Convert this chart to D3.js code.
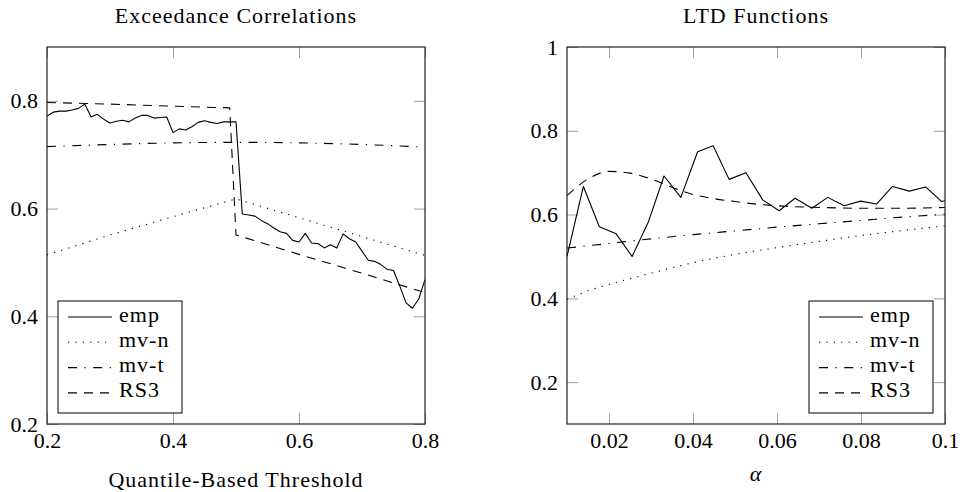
<!DOCTYPE html>
<html>
<head>
<meta charset="utf-8">
<script src="https://cdn.jsdelivr.net/npm/d3@7"></script>
</head>
<body style="margin:0">
<script>
// left panel: exceedance correlations
var thrEmp = [0.20,0.21,0.22,0.23,0.24,0.25,0.26,0.27,0.28,0.29,
  0.30,0.31,0.32,0.33,0.34,0.35,0.36,0.37,0.38,0.39,
  0.40,0.41,0.42,0.43,0.44,0.45,0.46,0.47,0.48,0.49,
  0.50,0.51,0.52,0.53,0.54,0.55,0.56,0.57,0.58,0.59,
  0.60,0.61,0.62,0.63,0.64,0.65,0.66,0.67,0.68,0.69,
  0.70,0.71,0.72,0.73,0.74,0.75,0.76,0.77,0.78,0.79,0.80];
var excEmp = [0.772,0.779,0.781,0.781,0.783,0.786,0.794,0.770,0.775,0.766,
  0.759,0.762,0.764,0.761,0.768,0.773,0.773,0.768,0.769,0.770,
  0.741,0.748,0.746,0.752,0.760,0.763,0.760,0.758,0.761,0.761,
  0.761,0.590,0.588,0.586,0.578,0.572,0.564,0.557,0.554,0.541,
  0.538,0.554,0.536,0.535,0.527,0.533,0.527,0.553,0.544,0.538,
  0.521,0.504,0.502,0.496,0.487,0.485,0.456,0.425,0.415,0.432,0.468];
var thrModel = [0.2,0.3,0.4,0.5,0.6,0.7,0.8];
var excMvn = [0.514,0.551,0.585,0.618,0.583,0.548,0.513];
var excMvt = [0.715,0.719,0.722,0.723,0.722,0.719,0.714];
var thrRs3 = [0.2,0.3,0.4,0.49,0.5,0.6,0.7,0.8];
var excRs3 = [0.797,0.794,0.790,0.787,0.551,0.515,0.480,0.444];

// right panel: LTD functions
var alphaEmp = [0.0100,0.0139,0.0177,0.0217,0.0255,0.0294,0.0331,0.0371,0.0411,0.0448,
  0.0486,0.0526,0.0566,0.0605,0.0643,0.0683,0.0721,0.0760,0.0799,0.0837,
  0.0875,0.0915,0.0954,0.0992,0.1000];
var ltdEmp = [0.500,0.667,0.571,0.554,0.500,0.583,0.692,0.641,0.750,0.764,
  0.684,0.700,0.635,0.609,0.639,0.615,0.641,0.621,0.632,0.625,
  0.667,0.656,0.666,0.631,0.633];
var alphaMvn = [0.01,0.015,0.02,0.025,0.03,0.04,0.05,0.06,0.07,0.08,0.09,0.1];
var ltdMvn = [0.397,0.418,0.433,0.447,0.460,0.485,0.505,0.521,0.536,0.550,0.562,0.573];
var alphaMvt = [0.01,0.02,0.03,0.04,0.05,0.06,0.07,0.08,0.09,0.1];
var ltdMvt = [0.520,0.531,0.542,0.552,0.561,0.570,0.578,0.586,0.594,0.601];
var alphaRs3 = [0.010,0.015,0.020,0.025,0.030,0.035,0.040,0.045,0.050,0.055,0.060,0.070,0.080,0.090,0.100];
var ltdRs3 = [0.645,0.685,0.703,0.699,0.685,0.665,0.648,0.638,0.631,0.625,0.621,0.617,0.615,0.615,0.617];

var seriesNames = ["emp", "mv-n", "mv-t", "RS3"];
var excTicksX = [0.2, 0.4, 0.6, 0.8];
var excTicksY = [0.2, 0.4, 0.6, 0.8];
var ltdTicksX = [0.02, 0.04, 0.06, 0.08, 0.1];
var ltdTicksY = [0.2, 0.4, 0.6, 0.8, 1];

var dashes = {"emp": null, "mv-n": "1.2,6.2", "mv-t": "9,7.5,1.2,7.5", "RS3": "9,7"};
var fontFam = "'Liberation Serif', monospace";

var svg = d3.select("body")
  .append("svg")
  .attr("width", 960)
  .attr("height", 492);

function zip(xs, ys) {
  return xs.map(function(x, i){ return [x, ys[i]]; });
}

function fmt(d) { return String(+d.toFixed(2)); }

function label(sel, txt) {
  return sel.append("text")
    .style("font-family", fontFam)
    .style("font-size", "22px")
    .style("letter-spacing", "1px")
    .text(txt);
}

function drawPanel(opt) {
  var w = opt.width, h = opt.height;
  var g = svg.append("g")
    .attr("transform", "translate(" + opt.left + "," + opt.top + ")");

  var x = d3.scaleLinear().domain(opt.xDomain).range([0, w]);
  var y = d3.scaleLinear().domain(opt.yDomain).range([h, 0]);

  // ticks point inward on all four sides, labels only bottom / left
  g.append("g").attr("transform", "translate(0," + h + ")")
    .call(d3.axisBottom(x).tickValues(opt.xTicks).tickSize(-11).tickPadding(8).tickFormat(fmt));
  g.append("g")
    .call(d3.axisTop(x).tickValues(opt.xTicks).tickSize(-11).tickFormat(""));
  g.append("g")
    .call(d3.axisLeft(y).tickValues(opt.yTicks).tickSize(-11).tickPadding(9).tickFormat(fmt));
  g.append("g").attr("transform", "translate(" + w + ",0)")
    .call(d3.axisRight(y).tickValues(opt.yTicks).tickSize(-11).tickFormat(""));
  g.selectAll(".domain").remove();
  g.selectAll(".tick line").attr("stroke", "#a0a0a0");
  g.selectAll(".tick text")
    .style("font-family", fontFam)
    .style("font-size", "22px")
    .attr("fill", "#000");

  var line = d3.line()
    .x(function(d){ return x(d[0]); })
    .y(function(d){ return y(d[1]); });

  opt.series.forEach(function(s){
    g.append("path")
      .datum(s.data)
      .attr("fill", "none")
      .attr("stroke", "#000")
      .attr("stroke-width", 1.1)
      .attr("stroke-linejoin", "round")
      .attr("stroke-dasharray", dashes[s.name])
      .attr("d", line.curve(s.smooth ? d3.curveMonotoneX : d3.curveLinear));
  });

  g.append("rect")
    .attr("width", w).attr("height", h)
    .attr("fill", "none")
    .attr("stroke", "#222")
    .attr("stroke-width", 1.2);

  label(g, opt.title)
    .attr("x", w / 2).attr("y", -24)
    .attr("text-anchor", "middle");

  var xl = label(g, opt.xLabel)
    .attr("x", w / 2).attr("y", h + opt.xLabelDy)
    .attr("text-anchor", "middle");
  if (opt.xLabelItalic) xl.style("font-style", "italic");

  // legend
  var lg = g.append("g").attr("transform", "translate(" + opt.legendX + "," + opt.legendY + ")");
  lg.append("rect")
    .attr("width", 124).attr("height", 112)
    .attr("fill", "#fff")
    .attr("stroke", "#000")
    .attr("stroke-width", 1);
  seriesNames.forEach(function(name, i){
    var ly = 16 + i * 25.3;
    lg.append("line")
      .attr("x1", 10).attr("x2", 54)
      .attr("y1", ly).attr("y2", ly)
      .attr("stroke", "#000")
      .attr("stroke-width", 1.1)
      .attr("stroke-dasharray", dashes[name]);
    label(lg, name).attr("x", 61).attr("y", ly + 4.5);
  });
}

drawPanel({
  left: 47, top: 47, width: 378, height: 377,
  xDomain: [0.2, 0.8], yDomain: [0.2, 0.9],
  xTicks: excTicksX, yTicks: excTicksY,
  title: "Exceedance Correlations",
  xLabel: "Quantile-Based Threshold", xLabelDy: 63,
  legendX: 11, legendY: 254,
  series: [
    {name: "emp", data: zip(thrEmp, excEmp)},
    {name: "mv-n", data: zip(thrModel, excMvn)},
    {name: "mv-t", data: zip(thrModel, excMvt), smooth: true},
    {name: "RS3", data: zip(thrRs3, excRs3)}
  ]
});

drawPanel({
  left: 567, top: 47, width: 378, height: 377,
  xDomain: [0.01, 0.1], yDomain: [0.1, 1],
  xTicks: ltdTicksX, yTicks: ltdTicksY,
  title: "LTD Functions",
  xLabel: "α", xLabelDy: 57, xLabelItalic: true,
  legendX: 242, legendY: 254,
  series: [
    {name: "emp", data: zip(alphaEmp, ltdEmp)},
    {name: "mv-n", data: zip(alphaMvn, ltdMvn), smooth: true},
    {name: "mv-t", data: zip(alphaMvt, ltdMvt), smooth: true},
    {name: "RS3", data: zip(alphaRs3, ltdRs3), smooth: true}
  ]
});
</script>
</body>
</html>
